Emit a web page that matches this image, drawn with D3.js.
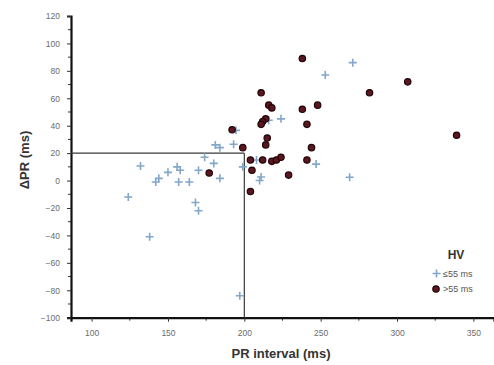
<!DOCTYPE html>
<html>
<head>
<meta charset="utf-8">
<script src="https://cdn.jsdelivr.net/npm/d3@7"></script>
<style>
  html, body { margin: 0; padding: 0; background: #fff; }
  svg { display: block; font-family: "Liberation Sans", Arial, sans-serif; }
</style>
</head>
<body>
<svg id="chart" width="494" height="365"></svg>
<script>
// HV <= 55 ms group: PR interval (ms) and ΔPR (ms)
const lowPR    = [271, 253, 224, 216, 194.5, 181, 184, 193, 174, 180, 199, 184, 211, 210, 247, 269, 208,
                  132, 124, 138, 142, 144, 150, 156, 158, 157, 164, 170, 168, 170, 197];
const lowDelta = [86, 77, 45, 44, 36.6, 26, 24, 26.5, 17, 12.5, 10, 1.6, 2.6, 0, 12, 2.4, 15,
                  10.6, -12, -41, -1, 1.6, 6, 10, 7.5, -1, -1, 7.5, -16, -22, -84];

// HV > 55 ms group
const highPR    = [238, 211, 216, 218, 238, 248, 282, 307, 339, 214, 212, 211, 241, 192,
                   215, 214, 199, 244, 204, 212, 218, 221, 224, 241, 205, 229, 177, 204];
const highDelta = [89, 64, 55, 53, 52, 55, 64, 72, 33, 45, 43, 41, 41, 37,
                   31, 26, 24, 24, 15, 15, 14, 15, 17, 15, 7.5, 4, 5.5, -8];

const xTicks = [100, 150, 200, 250, 300, 350];
const xMinor = [125, 175, 225, 275, 325];
const yTicks = [-100, -80, -60, -40, -20, 0, 20, 40, 60, 80, 100, 120];
const yMinor = [-90, -70, -50, -30, -10, 10, 30, 50, 70, 90, 110];

// reference cut-offs: PR 200 ms, ΔPR 20 ms
const cutPR = 200, cutDelta = 20;

const legendItems = ["≤55 ms", ">55 ms"];

const svg = d3.select("#chart");
const x = d3.scaleLinear().domain([86.5, 363.5]).range([71, 494]);
const y = d3.scaleLinear().domain([-100, 120]).range([317.7, 16]);

const tickColor = "#6b6b6b";
const crossColor = "#82a7ca";
const dotFill = "#5c1620";
const dotStroke = "#1e0508";

// minor ticks
svg.append("g").selectAll("line").data(xMinor).join("line")
  .attr("x1", d => x(d)).attr("x2", d => x(d))
  .attr("y1", y(-100)).attr("y2", y(-100) + 3)
  .attr("stroke", "#333").attr("stroke-width", 1);
svg.append("g").selectAll("line").data(yMinor).join("line")
  .attr("x1", x(86.5) - 3).attr("x2", x(86.5))
  .attr("y1", d => y(d)).attr("y2", d => y(d))
  .attr("stroke", "#333").attr("stroke-width", 1);

// x axis
const gx = svg.append("g").attr("transform", `translate(0,${y(-100)})`)
  .call(d3.axisBottom(x).tickValues(xTicks).tickSize(4).tickPadding(8));
gx.select(".domain").attr("stroke", "#111").attr("stroke-width", 2.2);
gx.selectAll(".tick line").attr("stroke", "#333");
gx.selectAll(".tick text").attr("fill", tickColor).attr("font-size", 8.5)
  .style("font-family", "'Liberation Sans', Arial, sans-serif");

// y axis
const gy = svg.append("g").attr("transform", `translate(${x(86.5)},0)`)
  .call(d3.axisLeft(y).tickValues(yTicks).tickSize(4).tickPadding(7));
gy.select(".domain").attr("stroke", "#111").attr("stroke-width", 2.2);
gy.selectAll(".tick line").attr("stroke", "#333");
gy.selectAll(".tick text").attr("fill", tickColor).attr("font-size", 8.5)
  .style("font-family", "'Liberation Sans', Arial, sans-serif");

// cut-off lines
svg.append("line")
  .attr("x1", x(86.5)).attr("x2", x(cutPR))
  .attr("y1", y(cutDelta)).attr("y2", y(cutDelta))
  .attr("stroke", "#3a3a3a").attr("stroke-width", 1.2);
svg.append("line")
  .attr("x1", x(cutPR)).attr("x2", x(cutPR))
  .attr("y1", y(cutDelta)).attr("y2", y(-100))
  .attr("stroke", "#3a3a3a").attr("stroke-width", 1.2);

// crosses (HV <= 55 ms)
const arm = 4;
const crossPath = (cx, cy) => `M${cx - arm},${cy}H${cx + arm}M${cx},${cy - arm}V${cy + arm}`;
svg.append("g").selectAll("path").data(d3.range(lowPR.length)).join("path")
  .attr("d", i => crossPath(x(lowPR[i]), y(lowDelta[i])))
  .attr("stroke", crossColor).attr("stroke-width", 1.6).attr("fill", "none");

// dots (HV > 55 ms)
svg.append("g").selectAll("circle").data(d3.range(highPR.length)).join("circle")
  .attr("cx", i => x(highPR[i])).attr("cy", i => y(highDelta[i]))
  .attr("r", 3.2)
  .attr("fill", dotFill).attr("stroke", dotStroke).attr("stroke-width", 1.2);

// axis titles
svg.append("text")
  .attr("x", 281).attr("y", 358)
  .attr("text-anchor", "middle")
  .attr("font-size", 13).attr("font-weight", "bold").attr("fill", "#333")
  .text("PR interval (ms)");
svg.append("text")
  .attr("transform", "translate(29,160) rotate(-90)")
  .attr("text-anchor", "middle")
  .attr("font-size", 13).attr("font-weight", "bold").attr("fill", "#333")
  .text("ΔPR (ms)");

// legend
const lg = svg.append("g");
lg.append("text").attr("x", 456).attr("y", 259)
  .attr("text-anchor", "middle").attr("font-size", 12).attr("font-weight", "bold")
  .attr("fill", "#333").text("HV");
lg.append("path").attr("d", crossPath(436.5, 273.5))
  .attr("stroke", crossColor).attr("stroke-width", 1.6);
lg.append("circle").attr("cx", 436).attr("cy", 289).attr("r", 3.2)
  .attr("fill", dotFill).attr("stroke", dotStroke).attr("stroke-width", 1.2);
lg.selectAll("text.item").data(legendItems).join("text")
  .attr("class", "item")
  .attr("x", 443).attr("y", (d, i) => 276.5 + i * 15.5)
  .attr("font-size", 9).attr("fill", "#555")
  .text(d => d);
</script>
</body>
</html>
